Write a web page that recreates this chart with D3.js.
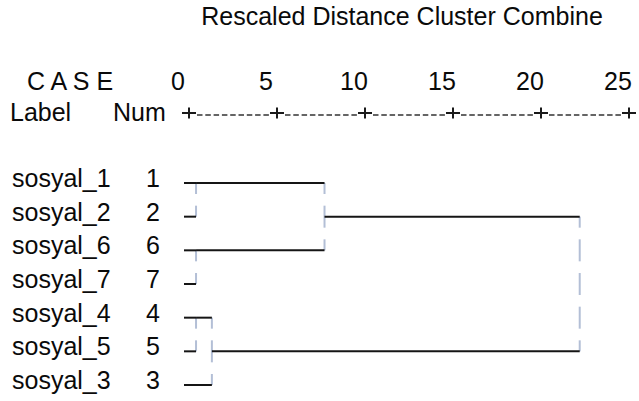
<!DOCTYPE html>
<html>
<head>
<meta charset="utf-8">
<script src="https://cdn.jsdelivr.net/npm/d3@7/dist/d3.min.js"></script>
<style>
  body { margin: 0; background: #fff; }
  text { font-family: "Liberation Sans", Arial, sans-serif; font-size: 25px; fill: #0a0a0a; }
</style>
</head>
<body>
<div id="container"></div>
<script>
/* DATA */
const caseLabels = ["sosyal_1", "sosyal_2", "sosyal_6", "sosyal_7", "sosyal_4", "sosyal_5", "sosyal_3"];
const caseNums = [1, 2, 6, 7, 4, 5, 3];
// agglomeration steps: cluster joinA absorbs cluster joinB at the rescaled distance
const joinA = [1, 6, 4, 4, 1, 1];
const joinB = [2, 7, 5, 3, 6, 4];
const joinDist = [0.4, 0.4, 0.4, 1.3, 7.7, 22.2];
const distTicks = [0, 5, 10, 15, 20, 25];

/* CONSTANTS */
const width = 639, height = 401;
const glyphHalf = 11;   // half height of one box-drawing glyph
const leafInset = 5;

/* SCALES */
const xScale = d3.scaleLinear().domain([0, 25]).range([189, 629]);
const yScale = d3.scalePoint().domain(caseNums).range([183, 385]);

const svg = d3.select("#container").append("svg")
  .attr("width", width)
  .attr("height", height);

/* HEADER */
svg.append("text").attr("x", 402).attr("y", 25).attr("text-anchor", "middle")
  .text("Rescaled Distance Cluster Combine");
svg.append("text").attr("x", 27).attr("y", 90).text("C A S E");
svg.append("text").attr("x", 10).attr("y", 121).text("Label");
svg.append("text").attr("x", 113).attr("y", 121).text("Num");

svg.selectAll(".tick-label")
  .data(distTicks)
  .join("text")
  .attr("class", "tick-label")
  .attr("x", d => xScale(d) - 11)
  .attr("y", 90)
  .attr("text-anchor", "middle")
  .text(d => d);

// dashed ruler between the + marks
svg.selectAll(".ruler")
  .data(distTicks.slice(0, -1))
  .join("line")
  .attr("class", "ruler")
  .attr("x1", d => xScale(d) + 8)
  .attr("x2", (d, i) => xScale(distTicks[i + 1]) - 7)
  .attr("y1", 115).attr("y2", 115)
  .attr("stroke", "#333")
  .attr("stroke-width", 1.4)
  .attr("stroke-dasharray", "5.5,2.8");

svg.selectAll(".plus")
  .data(distTicks)
  .join("path")
  .attr("class", "plus")
  .attr("d", d => `M${xScale(d) - 7},113H${xScale(d) + 7}M${xScale(d)},107.5V118.5`)
  .attr("stroke", "#1a1a1a")
  .attr("stroke-width", 2)
  .attr("fill", "none");

/* CASE LABELS */
svg.selectAll(".case-label")
  .data(caseNums)
  .join("text")
  .attr("class", "case-label")
  .attr("x", 12)
  .attr("y", d => yScale(d) + 4)
  .text((d, i) => caseLabels[i]);

svg.selectAll(".case-num")
  .data(caseNums)
  .join("text")
  .attr("class", "case-num")
  .attr("x", 153)
  .attr("y", d => yScale(d) + 4)
  .attr("text-anchor", "middle")
  .text(d => d);

/* TREE */
const rows = caseNums.map(n => yScale(n));
const node = new Map(caseNums.map((n, i) => [n, { row: i, x: xScale(0) - leafInset }]));
const hLines = [];
const vSegs = [];

joinA.forEach((a, k) => {
  const A = node.get(a), B = node.get(joinB[k]);
  const xm = xScale(joinDist[k]);
  hLines.push({ x1: A.x, x2: xm, y: rows[A.row] });
  hLines.push({ x1: B.x, x2: xm, y: rows[B.row] });
  const r0 = Math.min(A.row, B.row), r1 = Math.max(A.row, B.row);
  for (let r = r0; r <= r1; r++) {
    vSegs.push({
      x: xm,
      y1: Math.max(rows[r] - glyphHalf, rows[r0]),
      y2: Math.min(rows[r] + glyphHalf, rows[r1])
    });
  }
  node.set(a, { row: Math.floor((r0 + r1) / 2), x: xm });
});

svg.selectAll(".vseg")
  .data(vSegs)
  .join("line")
  .attr("class", "vseg")
  .attr("x1", d => d.x).attr("x2", d => d.x)
  .attr("y1", d => d.y1).attr("y2", d => d.y2)
  .attr("stroke", "#b3bfd6")
  .attr("stroke-width", 2);

svg.selectAll(".hline")
  .data(hLines)
  .join("line")
  .attr("class", "hline")
  .attr("x1", d => d.x1).attr("x2", d => d.x2)
  .attr("y1", d => d.y).attr("y2", d => d.y)
  .attr("stroke", "#151515")
  .attr("stroke-width", 2);
</script>
</body>
</html>
